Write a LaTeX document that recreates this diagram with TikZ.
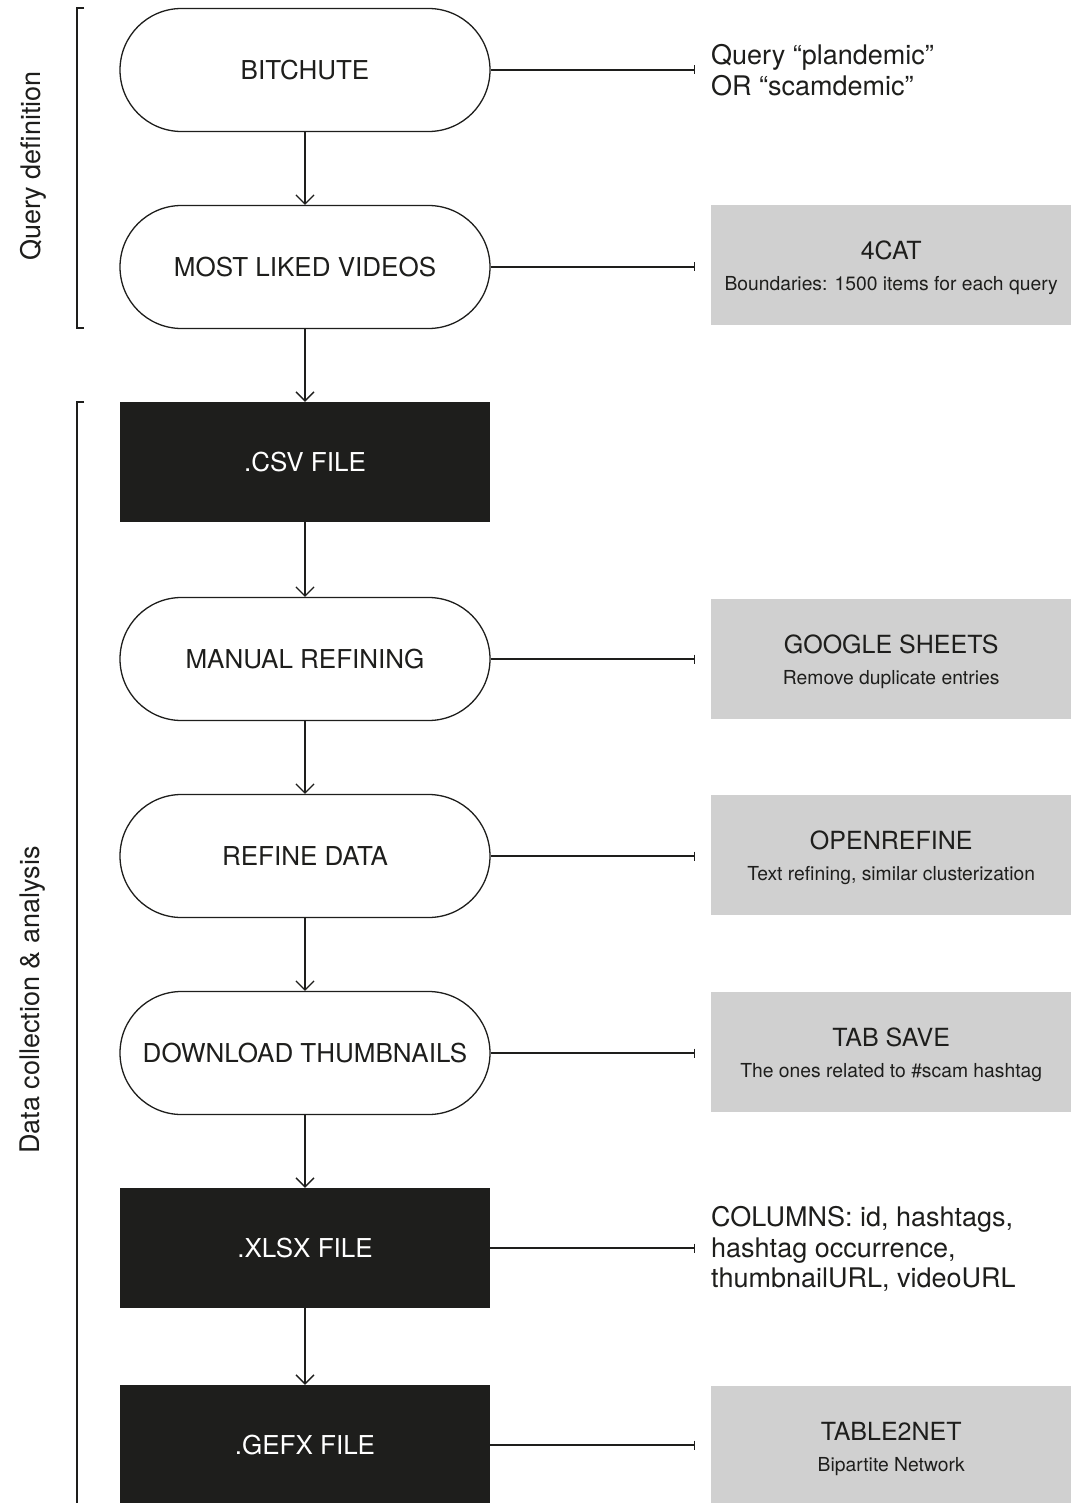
\documentclass[tikz,border=0pt]{standalone}
\usepackage{fontspec}
\setmainfont{TeX Gyre Heros}
\usetikzlibrary{arrows.meta}
\definecolor{ink}{HTML}{1E1E1C}
\definecolor{panel}{HTML}{D0D0D0}
\tikzset{
  big/.style={font=\fontsize{26}{30}\selectfont},
  stadium/.style={draw=ink, line width=1.3pt, rounded corners=61.5pt, minimum width=370pt, minimum height=123pt, inner sep=0pt, text=ink, big},
  filebox/.style={fill=ink, draw=none, minimum width=370pt, minimum height=120pt, inner sep=0pt, text=white, big},
  toolbox/.style={fill=panel, draw=none, anchor=west, minimum width=360pt, minimum height=120pt, inner sep=0pt},
  tooltitle/.style={text=ink, inner sep=0pt, font=\fontsize{25}{30}\selectfont},
  toolsub/.style={text=ink, inner sep=0pt, font=\fontsize{19.3}{22}\selectfont},
  note/.style={anchor=west, inner sep=0pt, text=ink, align=left, font=\fontsize{27}{30.5}\selectfont},
  flow/.style={draw=ink, line width=1.3pt, -{Straight Barb[length=9pt,width=18pt,line width=1.3pt]}},
  link/.style={draw=ink, line width=1.3pt, -{Bar[width=9pt,line width=1.3pt]}},
  brace/.style={draw=ink, line width=1.3pt},
  side/.style={rotate=90, text=ink, inner sep=0pt, font=\fontsize{27}{30}\selectfont},
}
\begin{document}
\begin{tikzpicture}[x=1pt,y=-1pt]
\useasboundingbox (0,0) rectangle (1071,1503);
\clip (0,0) rectangle (1071,1503);
\fill[white] (0,0) rectangle (1071,1503);

% main column
\node[stadium] (bit) at (305,70) {BITCHUTE};
\node[stadium] (liked) at (305,267) {MOST LIKED VIDEOS};
\node[filebox] (csv) at (305,462) {.CSV FILE};
\node[stadium] (manual) at (305,659) {MANUAL REFINING};
\node[stadium] (refine) at (305,856) {REFINE DATA};
\node[stadium] (thumb) at (305,1053) {DOWNLOAD THUMBNAILS};
\node[filebox] (xlsx) at (305,1248) {.XLSX FILE};
\node[filebox] (gefx) at (305,1445) {.GEFX FILE};

\draw[flow] (bit) -- (liked);
\draw[flow] (liked) -- (csv);
\draw[flow] (csv) -- (manual);
\draw[flow] (manual) -- (refine);
\draw[flow] (refine) -- (thumb);
\draw[flow] (thumb) -- (xlsx);
\draw[flow] (xlsx) -- (gefx);

% right side
\node[note] (q) at (711,70) {Query “plandemic”\\OR “scamdemic”};
\node[note] (cols) at (711,1249) {COLUMNS: id, hashtags,\\hashtag occurrence,\\thumbnailURL, videoURL};

\node[toolbox] (cat) at (711,265) {};
\node[tooltitle] (catT) at ([yshift=15pt]cat.center) {4CAT};
\node[toolsub] (catS) at ([yshift=-21pt]cat.center) {Boundaries: 1500 items for each query};

\node[toolbox] (gs) at (711,659) {};
\node[tooltitle] (gsT) at ([yshift=15pt]gs.center) {GOOGLE SHEETS};
\node[toolsub] (gsS) at ([yshift=-21pt]gs.center) {Remove duplicate entries};

\node[toolbox] (or) at (711,855) {};
\node[tooltitle] (orT) at ([yshift=15pt]or.center) {OPENREFINE};
\node[toolsub] (orS) at ([yshift=-21pt]or.center) {Text refining, similar clusterization};

\node[toolbox] (tab) at (711,1052) {};
\node[tooltitle] (tabT) at ([yshift=15pt]tab.center) {TAB SAVE};
\node[toolsub] (tabS) at ([yshift=-21pt]tab.center) {The ones related to \#scam hashtag};

\node[toolbox] (t2n) at (711,1446) {};
\node[tooltitle] (t2nT) at ([yshift=15pt]t2n.center) {TABLE2NET};
\node[toolsub] (t2nS) at ([yshift=-21pt]t2n.center) {Bipartite Network};

\coordinate (e1) at (695,70);
\coordinate (e2) at (695,267);
\coordinate (e3) at (695,659);
\coordinate (e4) at (695,856);
\coordinate (e5) at (695,1053);
\coordinate (e6) at (695,1248);
\coordinate (e7) at (695,1445);
\draw[link] (bit.east) -- (e1);
\draw[link] (liked.east) -- (e2);
\draw[link] (manual.east) -- (e3);
\draw[link] (refine.east) -- (e4);
\draw[link] (thumb.east) -- (e5);
\draw[link] (xlsx.east) -- (e6);
\draw[link] (gefx.east) -- (e7);

% brackets
\draw[brace] (84,8) -- (77,8) -- (77,328) -- (84,328);
\draw[brace] (84,402) -- (77,402) -- (77,1510);
\node[side] (lq) at (33,166) {Query definition};
\node[side] (ld) at (33,1000) {Data collection \& analysis};
\end{tikzpicture}
\end{document}
